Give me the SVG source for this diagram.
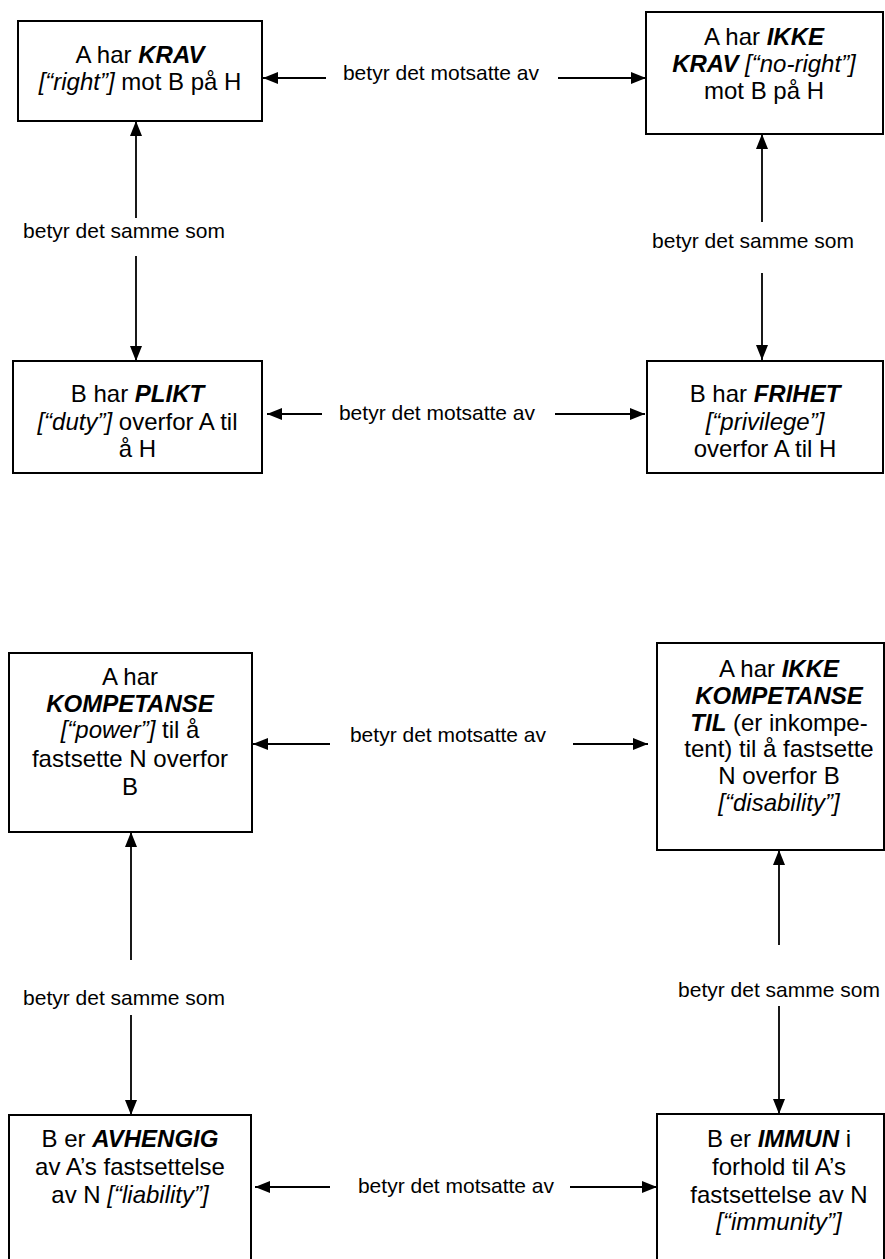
<svg xmlns="http://www.w3.org/2000/svg" width="885" height="1259" viewBox="0 0 885 1259">
<style>
.box{fill:#fff;stroke:#000;stroke-width:2}
.t{font-family:"Liberation Sans",Arial,sans-serif;font-size:24px;text-anchor:middle;fill:#000}
.l{font-family:"Liberation Sans",Arial,sans-serif;font-size:21px;text-anchor:middle;fill:#000}
.bi{font-weight:bold;font-style:italic}
.i{font-style:italic}
.c{stroke:#000;stroke-width:1.8;fill:none;marker-end:url(#ah)}
</style>
<defs>
<marker id="ah" viewBox="0 0 15 12" refX="15" refY="6" markerWidth="15" markerHeight="12" markerUnits="userSpaceOnUse" orient="auto">
<path d="M0,0 L15,6 L0,12 z" fill="#000"/>
</marker>
</defs>
<rect width="885" height="1259" fill="#fff"/>
<g id="connectors">
<line class="c" x1="326" y1="78" x2="263" y2="78"/>
<line class="c" x1="558" y1="78" x2="646" y2="78"/>
<line class="c" x1="136" y1="218" x2="136" y2="121"/>
<line class="c" x1="136" y1="256" x2="136" y2="361"/>
<line class="c" x1="762" y1="222" x2="762" y2="134"/>
<line class="c" x1="762" y1="273" x2="762" y2="360"/>
<line class="c" x1="322" y1="414" x2="267" y2="414"/>
<line class="c" x1="555" y1="414" x2="645" y2="414"/>
<line class="c" x1="330" y1="744" x2="253" y2="744"/>
<line class="c" x1="573" y1="744" x2="648" y2="744"/>
<line class="c" x1="131" y1="960" x2="131" y2="832"/>
<line class="c" x1="131" y1="1015" x2="131" y2="1115"/>
<line class="c" x1="779" y1="945" x2="779" y2="850"/>
<line class="c" x1="779" y1="1006" x2="779" y2="1114"/>
<line class="c" x1="330" y1="1187" x2="255" y2="1187"/>
<line class="c" x1="570" y1="1187" x2="657" y2="1187"/>
<text class="l" x="441" y="80">betyr det motsatte av</text>
<text class="l" x="124" y="238">betyr det samme som</text>
<text class="l" x="753" y="248">betyr det samme som</text>
<text class="l" x="437" y="420">betyr det motsatte av</text>
<text class="l" x="448" y="742">betyr det motsatte av</text>
<text class="l" x="124" y="1005">betyr det samme som</text>
<text class="l" x="779" y="997">betyr det samme som</text>
<text class="l" x="456" y="1193">betyr det motsatte av</text>
</g>
<g id="krav">
<rect class="box" x="18" y="21" width="244" height="100"/>
<text class="t" x="140" y="63">A har <tspan class="bi">KRAV</tspan></text>
<text class="t" x="140" y="90"><tspan class="i">[“right”]</tspan> mot B på H</text>
</g>
<g id="ikke-krav">
<rect class="box" x="646" y="12" width="237" height="122"/>
<text class="t" x="764" y="45">A har <tspan class="bi">IKKE</tspan></text>
<text class="t" x="764" y="72"><tspan class="bi">KRAV</tspan> <tspan class="i">[“no-right”]</tspan></text>
<text class="t" x="764" y="99">mot B på H</text>
</g>
<g id="plikt">
<rect class="box" x="13" y="361" width="249" height="112"/>
<text class="t" x="137.5" y="402">B har <tspan class="bi">PLIKT</tspan></text>
<text class="t" x="137.5" y="430"><tspan class="i">[“duty”]</tspan> overfor A til</text>
<text class="t" x="137.5" y="457">å H</text>
</g>
<g id="frihet">
<rect class="box" x="647" y="361" width="236" height="112"/>
<text class="t" x="765" y="402">B har <tspan class="bi">FRIHET</tspan></text>
<text class="t" x="765" y="430"><tspan class="i">[“privilege”]</tspan></text>
<text class="t" x="765" y="457">overfor A til H</text>
</g>
<g id="kompetanse">
<rect class="box" x="9" y="653" width="243" height="179"/>
<text class="t" x="130" y="685">A har</text>
<text class="t" x="130" y="712"><tspan class="bi">KOMPETANSE</tspan></text>
<text class="t" x="130" y="738"><tspan class="i">[“power”]</tspan> til å</text>
<text class="t" x="130" y="767">fastsette N overfor</text>
<text class="t" x="130" y="795">B</text>
</g>
<g id="ikke-kompetanse">
<rect class="box" x="657" y="643" width="227" height="207"/>
<text class="t" x="779" y="677">A har <tspan class="bi">IKKE</tspan></text>
<text class="t" x="779" y="704"><tspan class="bi">KOMPETANSE</tspan></text>
<text class="t" x="779" y="731"><tspan class="bi">TIL</tspan> (er inkompe-</text>
<text class="t" x="779" y="757">tent) til å fastsette</text>
<text class="t" x="779" y="784">N overfor B</text>
<text class="t" x="779" y="811"><tspan class="i">[“disability”]</tspan></text>
</g>
<g id="avhengig">
<rect class="box" x="9" y="1115" width="242" height="160"/>
<text class="t" x="130" y="1147">B er <tspan class="bi">AVHENGIG</tspan></text>
<text class="t" x="130" y="1175">av A’s fastsettelse</text>
<text class="t" x="130" y="1203">av N <tspan class="i">[“liability”]</tspan></text>
</g>
<g id="immun">
<rect class="box" x="657" y="1114" width="227" height="160"/>
<text class="t" x="779" y="1147">B er <tspan class="bi">IMMUN</tspan> i</text>
<text class="t" x="779" y="1175">forhold til A’s</text>
<text class="t" x="779" y="1203">fastsettelse av N</text>
<text class="t" x="779" y="1230"><tspan class="i">[“immunity”]</tspan></text>
</g>
</svg>
